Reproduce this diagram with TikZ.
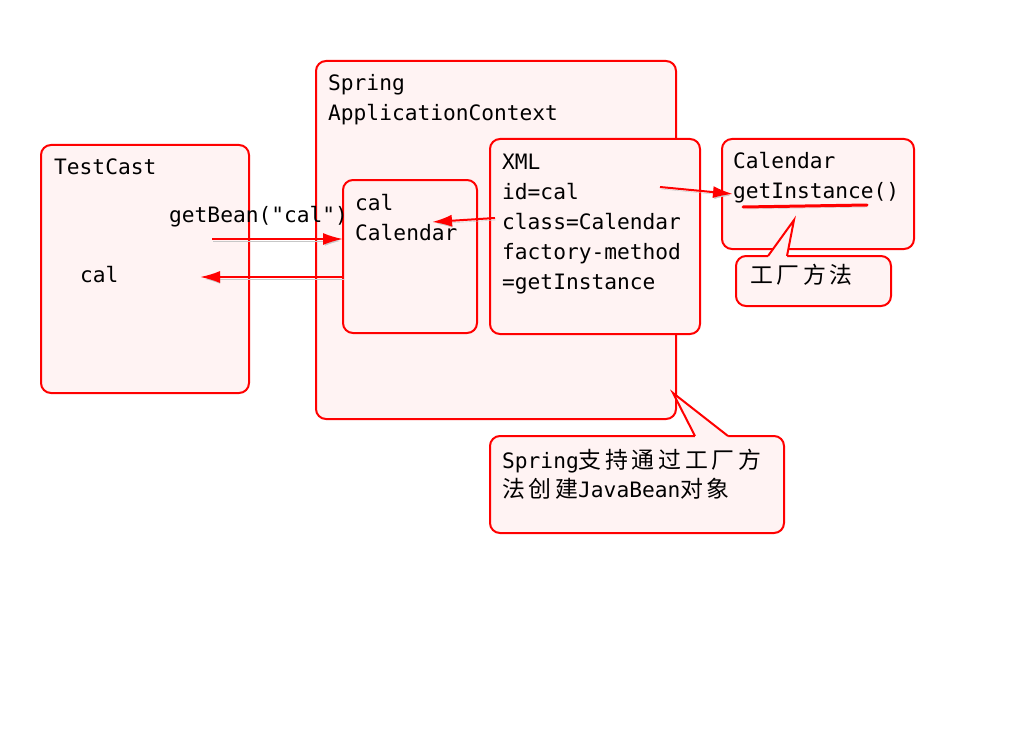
\documentclass[tikz,border=0pt]{standalone}
\usepackage{fontspec}
\setmonofont{DejaVu Sans Mono}
\newfontfamily\cjk[Scale=1.08,LetterSpace=16]{Noto Sans CJK SC}
\usetikzlibrary{arrows.meta}
\definecolor{boxfill}{RGB}{255,243,243}
\definecolor{boxline}{RGB}{255,0,0}

\begin{document}
\begin{tikzpicture}[x=1pt, y=-1pt,
	box/.style={draw=boxline, fill=boxfill, line width=2pt, rounded corners=10pt,
		inner sep=0pt, outer sep=0pt, anchor=north west},
	txt/.style={anchor=base west, inner sep=0pt, font=\ttfamily\fontsize{21.2}{30}\selectfont},
	shadowed/.style={preaction={draw=black!22, transform canvas={shift={(1pt,-2pt)}}}},
	link/.style={draw=boxline, line width=2pt, shadowed, -{Latex[length=20pt,width=12pt]}}]
	\useasboundingbox (0,0) rectangle (1024,738);
	% boxes
	\node[box, minimum width=208pt, minimum height=248pt] (testcast) at (41,145) {};
	\node[box, minimum width=360pt, minimum height=358pt] (spring) at (316,61) {};
	\node[box, minimum width=134pt, minimum height=153pt] (calbean) at (343,180) {};
	\node[box, minimum width=210pt, minimum height=195pt] (xml) at (490,139) {};
	\node[box, minimum width=192pt, minimum height=110pt] (calendar) at (722,139) {};
	% callouts
	\node[box, minimum width=155pt, minimum height=50pt] (factorynote) at (736,256) {};
	\fill[boxfill] (768,256) -- (794,220) -- (787,256) -- (787,259) -- (768,259) -- cycle;
	\draw[boxline, line width=2pt] (768,256) -- (794,220) -- (787,256);
	\node[box, minimum width=294pt, minimum height=97pt] (springnote) at (490,436) {};
	\fill[boxfill] (695,436) -- (673,393) -- (728,436) -- (728,439) -- (695,439) -- cycle;
	\draw[boxline, line width=2pt] (695,436) -- (673,393) -- (728,436);
	% texts
	\node[txt] (testcastname) at (54,175) {TestCast};
	\node[txt] (getbean) at (169,222) {getBean("cal")};
	\node[txt] (calref) at (80,282) {cal};
	\node[txt] (springname) at (328,91) {Spring};
	\node[txt] (ctxname) at (328,121) {ApplicationContext};
	\node[txt] (calid) at (355,210) {cal};
	\node[txt] (calclass) at (355,240) {Calendar};
	\foreach \line [count=\i from 0] in {XML, id=cal, class=Calendar, factory-method, =getInstance}
		\node[txt] (xml\i) at (502,169+30*\i) {\line};
	\node[txt] (calendarname) at (733,168) {Calendar};
	\node[txt] (getinstance) at (733,198) {getInstance()};
	\node[txt] (factorytext) at (750,283) {\cjk 工厂方法};
	\node[txt] (springtexta) at (502,468) {Spring{\cjk 支持通过工厂方}};
	\node[txt] (springtextb) at (502,497) {{\cjk 法创建}JavaBean{\cjk 对象}};
	% arrows
	\coordinate (getfrom) at (212,239);
	\coordinate (retto) at (200,277);
	\coordinate (clsfrom) at (495,218);
	\coordinate (clsto) at (432,222);
	\coordinate (facfrom) at (660,187);
	\coordinate (facto) at (733,194);
	\draw[link] (getfrom) -- (calbean.west |- getfrom);
	\draw[link] (calbean.west |- retto) -- (retto);
	\draw[link] (clsfrom) -- (clsto);
	\draw[link] (facfrom) -- (facto);
	\draw[boxline, line width=3pt, shadowed, line cap=round] (743,207) -- (867,205);
\end{tikzpicture}
\end{document}
